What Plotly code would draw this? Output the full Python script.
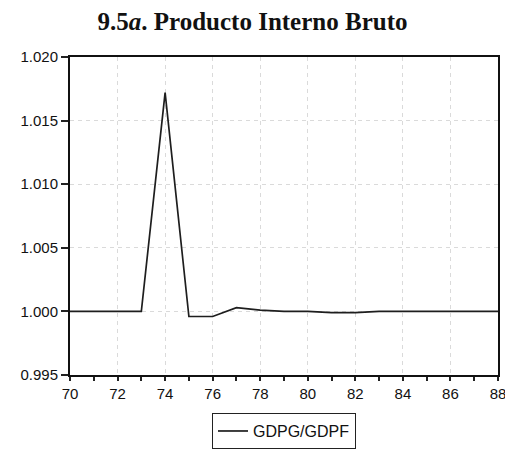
import plotly.graph_objects as go

# Annual ratio GDPG/GDPF, years 1970-1988 (two-digit labels)
years = list(range(70, 89))
gdpg_gdpf = [1.0000, 1.0000, 1.0000, 1.0000, 1.0172, 0.9996, 0.9996, 1.0003,
             1.0001, 1.0000, 1.0000, 0.9999, 0.9999, 1.0000, 1.0000, 1.0000,
             1.0000, 1.0000, 1.0000]

y_ticks = [0.995, 1.000, 1.005, 1.010, 1.015, 1.020]
x_ticks = list(range(70, 89, 2))

fig = go.Figure()
fig.add_trace(go.Scatter(
    x=years, y=gdpg_gdpf, mode="lines", name="GDPG/GDPF",
    line=dict(color="#1e1e1e", width=1.7),
))

axis_font = dict(family="Liberation Sans, Arial, sans-serif", size=15, color="#111")

fig.update_layout(
    width=505, height=449,
    margin=dict(l=70, r=7, t=57, b=74, autoexpand=False),
    paper_bgcolor="white", plot_bgcolor="white",
    title=dict(
        text="<b>9.5<i>a</i>. Producto Interno Bruto</b>",
        x=0.5, xref="container", xanchor="center",
        y=0.952, yref="container", yanchor="middle",
        font=dict(family="Liberation Serif, Times New Roman, serif", size=25, color="#111"),
    ),
    xaxis=dict(
        range=[70, 88], tickvals=x_ticks, ticktext=[str(v) for v in x_ticks],
        ticks="outside", ticklen=4, tickwidth=1.5, tickcolor="#222",
        minor=dict(dtick=1, ticks="outside", ticklen=4, tickwidth=1.5, tickcolor="#222", showgrid=False),
        showline=True, linewidth=2, linecolor="#111", mirror=True,
        showgrid=True, gridcolor="#dadada", griddash="4px,4px", gridwidth=1,
        zeroline=False, tickfont=axis_font, ticklabeloverflow="allow",
    ),
    yaxis=dict(
        range=[0.995, 1.020], tickvals=y_ticks, ticktext=[f"{v:.3f}" for v in y_ticks],
        ticks="outside", ticklen=7, tickwidth=1.5, tickcolor="#222",
        showline=True, linewidth=2, linecolor="#111", mirror=True,
        showgrid=True, gridcolor="#dadada", griddash="4px,4px", gridwidth=1,
        zeroline=False, tickfont=axis_font, ticklabeloverflow="allow",
    ),
    showlegend=True,
    legend=dict(
        orientation="h", x=0.5, xanchor="center",
        y=0.08, yref="container", yanchor="top",
        bordercolor="#222", borderwidth=1, bgcolor="white",
        font=dict(family="Liberation Sans, Arial, sans-serif", size=16, color="#111"),
    ),
)

fig.write_html("out.html")
